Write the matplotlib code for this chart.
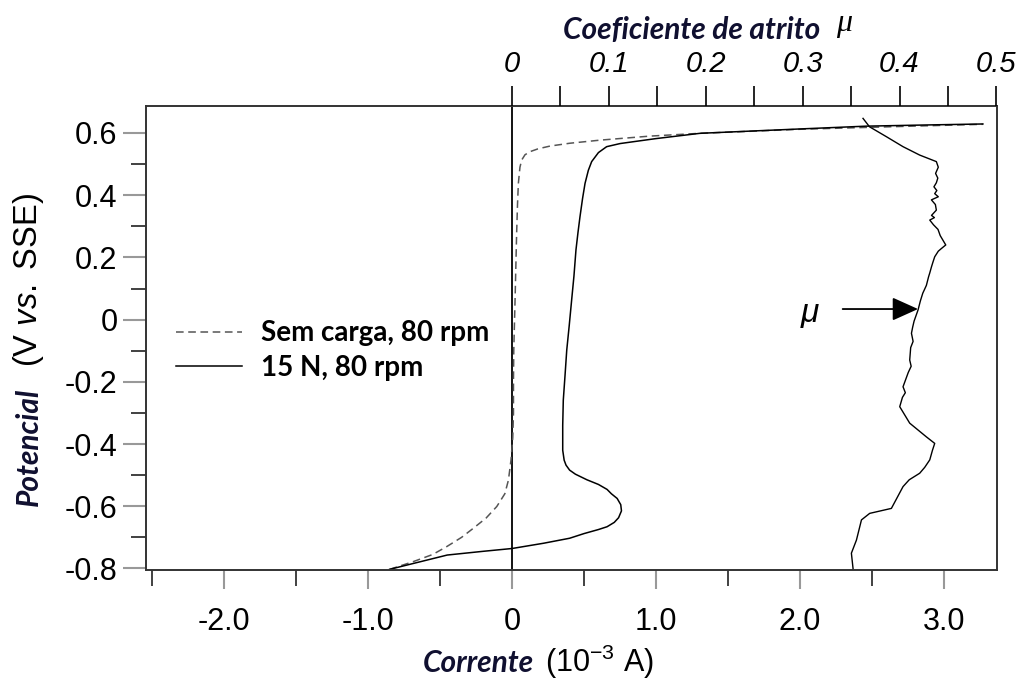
import matplotlib
matplotlib.use("Agg")
import matplotlib.pyplot as plt
from matplotlib.ticker import FixedLocator

plt.rcParams['mathtext.fontset'] = 'custom'
plt.rcParams['mathtext.rm'] = 'Liberation Sans'
plt.rcParams['mathtext.it'] = 'Liberation Sans:italic'
plt.rcParams['font.family'] = ['Liberation Sans', 'DejaVu Sans']

# ---- data ----
# 15 N, 80 rpm (solid): current (10^-3 A) vs potential (V vs SSE)
load_current = [-0.85, -0.65, -0.45, -0.2, 0.0, 0.22, 0.40, 0.50, 0.60, 0.66, 0.71, 0.74,
                0.76, 0.755, 0.73, 0.69, 0.66, 0.60, 0.52, 0.44, 0.40, 0.375, 0.362, 0.352,
                0.352, 0.356, 0.368, 0.380, 0.397, 0.414, 0.430, 0.444, 0.458, 0.472, 0.49,
                0.507, 0.53, 0.553, 0.60, 0.657, 0.75, 0.843, 1.0, 1.306, 1.7, 2.0, 2.46,
                2.9, 3.27]
load_potential = [-0.803, -0.78, -0.757, -0.745, -0.736, -0.719, -0.703, -0.688, -0.675,
                  -0.666, -0.652, -0.637, -0.615, -0.595, -0.575, -0.560, -0.546, -0.530,
                  -0.515, -0.497, -0.484, -0.468, -0.452, -0.42, -0.34, -0.259, -0.18,
                  -0.098, -0.02, 0.063, 0.14, 0.224, 0.28, 0.331, 0.39, 0.438, 0.48, 0.508,
                  0.537, 0.556, 0.566, 0.572, 0.582, 0.599, 0.607, 0.613, 0.622, 0.626, 0.629]

# Sem carga, 80 rpm (dashed)
free_current = [-0.85, -0.685, -0.55, -0.454, -0.35, -0.269, -0.18, -0.106, -0.05, -0.025,
                -0.007, 0.005, 0.01, 0.01, 0.012, 0.021, 0.027, 0.032, 0.038, 0.044, 0.055,
                0.067, 0.09, 0.125, 0.18, 0.264, 0.40, 0.611, 0.958, 1.306, 2.0, 2.7, 3.27]
free_potential = [-0.803, -0.778, -0.755, -0.730, -0.70, -0.671, -0.638, -0.601, -0.56,
                  -0.516, -0.451, -0.38, -0.301, -0.194, -0.10, 0.063, 0.18, 0.278, 0.37,
                  0.438, 0.49, 0.513, 0.53, 0.540, 0.549, 0.558, 0.567, 0.577, 0.590, 0.599,
                  0.612, 0.621, 0.628]

# friction coefficient mu (top axis) vs potential
mu_values = [0.3623, 0.369, 0.3865, 0.4036, 0.4208, 0.438, 0.4400, 0.4372, 0.4395, 0.4380,
             0.4355, 0.4385, 0.4363, 0.4400, 0.4329, 0.4370, 0.4380, 0.4330, 0.4360, 0.4312,
             0.4350, 0.4397, 0.4420, 0.4477, 0.4430, 0.4400, 0.4363, 0.4345, 0.4330, 0.4312,
             0.4300, 0.4277, 0.4255, 0.4240, 0.4215, 0.4191, 0.4150, 0.4135, 0.4123, 0.4140,
             0.4115, 0.4105, 0.4120, 0.4090, 0.4036, 0.4060, 0.4030, 0.4002, 0.4105, 0.4277,
             0.4363, 0.4340, 0.4312, 0.4260, 0.4208, 0.4100, 0.4036, 0.3916, 0.3692, 0.3607,
             0.3555, 0.3503, 0.352]
mu_potential = [0.647, 0.620, 0.588, 0.556, 0.529, 0.508, 0.490, 0.470, 0.455, 0.440, 0.427,
                0.415, 0.405, 0.395, 0.385, 0.370, 0.352, 0.335, 0.328, 0.320, 0.305, 0.290,
                0.270, 0.240, 0.228, 0.220, 0.202, 0.185, 0.170, 0.150, 0.138, 0.11, 0.095,
                0.085, 0.06, 0.031, -0.005, -0.025, -0.044, -0.07, -0.09, -0.130, -0.15,
                -0.17, -0.216, -0.235, -0.25, -0.280, -0.333, -0.377, -0.398, -0.42, -0.451,
                -0.475, -0.494, -0.515, -0.537, -0.607, -0.623, -0.644, -0.709, -0.751, -0.800]

current_ticks = [-2.0, -1.0, 0.0, 1.0, 2.0, 3.0]
current_labels = ['-2.0', '-1.0', '0', '1.0', '2.0', '3.0']
current_minor = [-2.5, -1.5, -0.5, 0.5, 1.5, 2.5]
potential_ticks = [0.6, 0.4, 0.2, 0.0, -0.2, -0.4, -0.6, -0.8]
potential_labels = ['0.6', '0.4', '0.2', '0', '-0.2', '-0.4', '-0.6', '-0.8']
potential_minor = [0.5, 0.3, 0.1, -0.1, -0.3, -0.5, -0.7]
mu_ticks = [0.0, 0.1, 0.2, 0.3, 0.4, 0.5]
mu_labels = ['0', '0.1', '0.2', '0.3', '0.4', '0.5']
mu_minor = [0.05, 0.15, 0.25, 0.35, 0.45]
legend_labels = ['Sem carga, 80 rpm', '15 N, 80 rpm']

# ---- figure ----
W, H = 1027, 682
fig = plt.figure(figsize=(W / 100, H / 100), dpi=100)


def fx(px):
    return px / W


def fy(py):
    return 1 - py / H


ax = fig.add_axes([fx(146), fy(570), (997 - 146) / W, (570 - 106) / H])
l1, = ax.plot(free_current, free_potential, color='#555555', lw=1.1, ls=(0, (5, 3)))
l2, = ax.plot(load_current, load_potential, color='black', lw=1.1)
ax.axvline(0, color='black', lw=1.3, zorder=1)
ax.set_xlim(-2.542, 3.368)
ax.set_ylim(-0.8051, 0.6868)

ax.xaxis.set_major_locator(FixedLocator(current_ticks))
ax.xaxis.set_minor_locator(FixedLocator(current_minor))
ax.set_xticklabels(current_labels)
ax.yaxis.set_major_locator(FixedLocator(potential_ticks))
ax.yaxis.set_minor_locator(FixedLocator(potential_minor))
ax.set_yticklabels(potential_labels)
ax.tick_params(axis='x', which='major', direction='out', length=13.7, width=1.5,
               color='#999999', pad=13, labelsize=22)
ax.tick_params(axis='x', which='minor', direction='out', length=11.5, width=1.3,
               color='#333333')
ax.tick_params(axis='y', which='major', direction='out', length=16.5, width=1.5,
               color='#999999', pad=4, labelsize=22)
ax.tick_params(axis='y', which='minor', direction='out', length=10.8, width=1.3,
               color='#333333')
for s in ax.spines.values():
    s.set_linewidth(1.4)
    s.set_color('#333333')

ax2 = ax.twiny()
ax2.plot(mu_values, mu_potential, color='black', lw=1.0)
ax2.set_xlim(-0.3778, 0.5006)
ax2.xaxis.set_major_locator(FixedLocator(mu_ticks))
ax2.xaxis.set_minor_locator(FixedLocator(mu_minor))
ax2.set_xticklabels(mu_labels, fontstyle='italic')
ax2.tick_params(axis='x', which='both', direction='out', length=14.4, width=1.2,
                color='black', pad=6, labelsize=21)
for s in ax2.spines.values():
    s.set_visible(False)

ax2.annotate('', xy=(0.4191, 0.034), xytext=(0.3413, 0.034),
             arrowprops=dict(arrowstyle='-|>,head_length=0.8,head_width=0.36',
                             color='black', lw=1.3, mutation_scale=20,
                             shrinkA=0, shrinkB=0))
ax2.text(0.3073, 0.021, 'μ', fontsize=24, fontstyle='italic', ha='center', va='center')

leg = ax.legend([l1, l2], legend_labels, loc='upper left',
                bbox_to_anchor=(0.035, 0.538), frameon=False,
                prop=dict(family=['Lato', 'DejaVu Sans'], weight='bold', size=20),
                handlelength=2.4, handletextpad=0.65, labelspacing=0.3,
                borderpad=0, borderaxespad=0)

lab_kw = dict(family=['Lato', 'DejaVu Sans'], fontstyle='italic', fontweight='bold',
              color='#101030')
fig.text(fx(563), fy(30), 'Coeficiente de atrito', fontsize=21.5, ha='left', va='center', **lab_kw)
fig.text(fx(844), fy(24), 'μ', fontsize=23, ha='center', va='center',
         family='Liberation Serif', fontstyle='italic')
fig.text(fx(423), fy(672), 'Corrente', fontsize=21.5, ha='left', va='baseline', **lab_kw)
fig.text(fx(545), fy(672), r'(10$^{\mathregular{-3}}$ A)', fontsize=22, ha='left', va='baseline')
fig.text(fx(38), fy(447), 'Potencial', fontsize=21.5, rotation=90, rotation_mode='anchor',
         ha='center', va='baseline', **lab_kw)
fig.text(fx(37), fy(280), r'(V $\mathit{vs.}$ SSE)', fontsize=23.5, rotation=90,
         rotation_mode='anchor', ha='center', va='baseline')

fig.savefig('out.png', dpi=100)
